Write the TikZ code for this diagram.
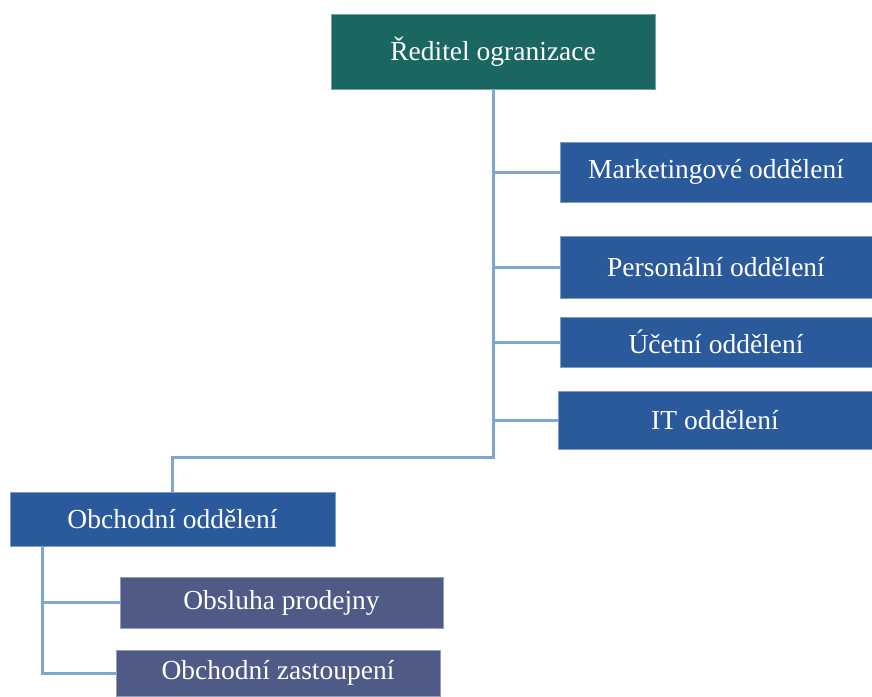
\documentclass[tikz,border=0pt]{standalone}
\usepackage{fontspec}
\setmainfont{Liberation Serif}
\usetikzlibrary{positioning}
\definecolor{headteal}{RGB}{26,102,96}
\definecolor{deptblue}{RGB}{42,90,155}
\definecolor{subslate}{RGB}{79,91,134}
\definecolor{linkblue}{RGB}{127,166,207}
\tikzset{
headbox/.style={
  rectangle,
  inner sep=0pt,
  align=center,
  fill=headteal,
  draw=headteal!60!white,
  line width=0.6pt,
  text=white,
  font=\fontsize{27.5}{33}\selectfont,
  }
}
\tikzset{
deptbox/.style={
  rectangle,
  inner sep=0pt,
  align=center,
  fill=deptblue,
  draw=deptblue!60!white,
  line width=0.6pt,
  text=white,
  font=\fontsize{27.5}{33}\selectfont,
  }
}
\tikzset{
subbox/.style={
  deptbox,
  fill=subslate,
  draw=subslate!60!white,
  }
}
\tikzset{
link/.style={
  line width=3pt,
  draw=linkblue,
  }
}

\begin{document}
\begin{tikzpicture}[x=1pt,y=-1pt]
    \useasboundingbox (0,0) rectangle (872,696);

    % head
    \node[headbox, minimum width=324pt, minimum height=75pt] (dir) at (493,51.5) {Ředitel ogranizace};

    % departments
    \node[deptbox, minimum width=312pt, minimum height=60pt] (mkt) at (716,172) {Marketingové oddělení};
    \node[deptbox, minimum width=312pt, minimum height=62pt] (pers) at (716,267) {Personální oddělení};
    \node[deptbox, minimum width=312pt, minimum height=50pt] (ucet) at (716,342) {Účetní oddělení};
    \node[deptbox, minimum width=314pt, minimum height=58pt] (it) at (715,420) {IT oddělení};
    \node[deptbox, minimum width=325pt, minimum height=54pt] (obch) at (172.5,519) {Obchodní oddělení};

    % sales part
    \node[subbox, minimum width=323pt, minimum height=51pt] (prod) at (281.5,602.5) {Obsluha prodejny};
    \node[subbox, minimum width=324pt, minimum height=46pt] (zast) at (278,673) {Obchodní zastoupení};

    \coordinate (elbow) at (493,457);
    \coordinate (subtrunk) at (42,546);

    % head edges
    \draw[link] (dir.south) -- (elbow) -| (obch.north);
    \draw[link] (dir.south |- mkt.west) -- (mkt.west);
    \draw[link] (dir.south |- pers.west) -- (pers.west);
    \draw[link] (dir.south |- ucet.west) -- (ucet.west);
    \draw[link] (dir.south |- it.west) -- (it.west);

    % sales edges
    \draw[link] (subtrunk) |- (zast.west);
    \draw[link] (subtrunk |- prod.west) -- (prod.west);
  \end{tikzpicture}
\end{document}
